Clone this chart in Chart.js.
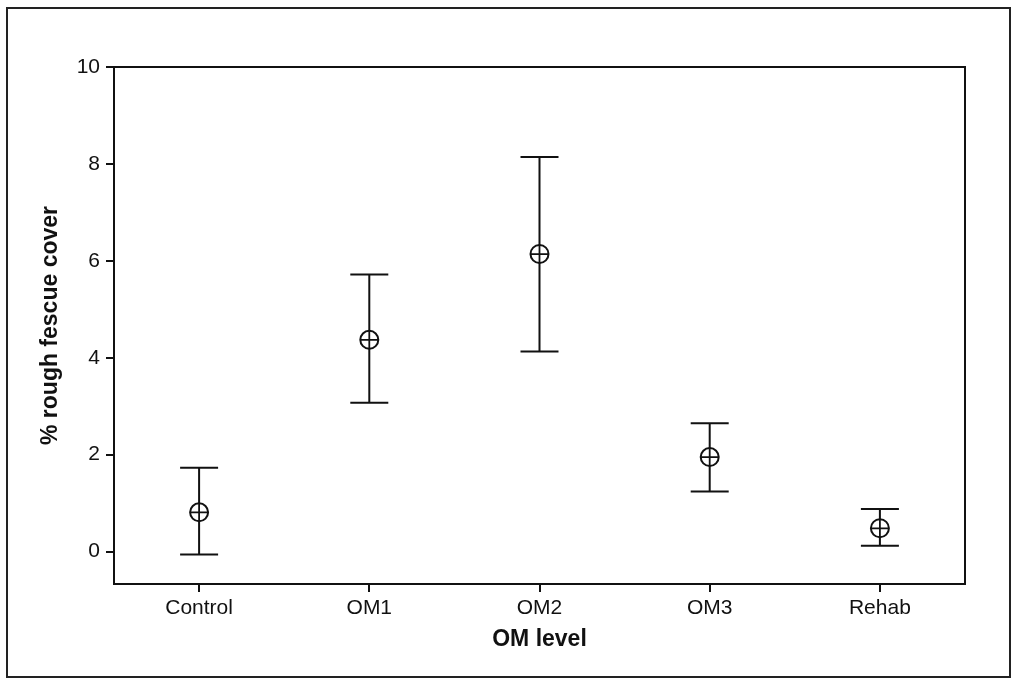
<!DOCTYPE html>
<html>
<head>
<meta charset="utf-8">
<script src="https://cdn.jsdelivr.net/npm/chart.js@4"></script>
<style>
  html, body { margin: 0; padding: 0; background: #fff; }
  #wrap { width: 1013px; height: 681px; }
</style>
</head>
<body>
<div id="wrap"><canvas id="fescueChart" width="1013" height="681"></canvas></div>
<script>
// treatment levels and rough fescue cover (%) with interval bounds
const omLevels = ['Control', 'OM1', 'OM2', 'OM3', 'Rehab'];
const meanCover = [0.81, 4.37, 6.14, 1.95, 0.48];
const upperCover = [1.73, 5.72, 8.14, 2.65, 0.88];
const lowerCover = [-0.06, 3.07, 4.13, 1.24, 0.12];
const yTicks = [0, 2, 4, 6, 8, 10];

// white page + thin frame around the whole figure
const frame = {
    id: 'frame',
    beforeDraw(chart) {
        const ctx = chart.ctx;
        ctx.save();
        ctx.fillStyle = '#fff';
        ctx.fillRect(0, 0, chart.width, chart.height);
        ctx.strokeStyle = '#222';
        ctx.lineWidth = 2;
        ctx.strokeRect(7, 8, 1003, 669);
        ctx.restore();
    },
    afterDraw(chart) {
        // closed box around the plot area
        const a = chart.chartArea;
        const ctx = chart.ctx;
        ctx.save();
        ctx.strokeStyle = '#111';
        ctx.lineWidth = 2;
        ctx.strokeRect(a.left, a.top, a.right - a.left, a.bottom - a.top);
        ctx.restore();
    }
};

// vertical whiskers with caps, drawn under the markers
const errorBars = {
    id: 'errorBars',
    beforeDatasetsDraw(chart) {
        const x = chart.scales.x, y = chart.scales.y, ctx = chart.ctx;
        const cap = 19;
        ctx.save();
        ctx.strokeStyle = '#111';
        ctx.lineWidth = 2;
        omLevels.forEach((lvl, i) => {
            const px = x.getPixelForValue(i);
            const yHi = y.getPixelForValue(upperCover[i]);
            const yLo = y.getPixelForValue(lowerCover[i]);
            ctx.beginPath();
            ctx.moveTo(px, yHi); ctx.lineTo(px, yLo);
            ctx.moveTo(px - cap, yHi); ctx.lineTo(px + cap, yHi);
            ctx.moveTo(px - cap, yLo); ctx.lineTo(px + cap, yLo);
            ctx.stroke();
        });
        ctx.restore();
    }
};

new Chart(document.getElementById('fescueChart'), {
    type: 'line',
    data: {
        labels: omLevels,
        datasets: [
            // cross on top, open circle underneath -> circled plus marker
            { data: meanCover, showLine: false, pointStyle: 'cross', pointRadius: 9,
              pointBorderColor: '#111', pointBorderWidth: 1.8 },
            { data: meanCover, showLine: false, pointStyle: 'circle', pointRadius: 9,
              pointBackgroundColor: '#fff', pointBorderColor: '#111', pointBorderWidth: 2 }
        ]
    },
    options: {
        responsive: false,
        animation: false,
        events: [],
        layout: { padding: { top: 67, right: 48, left: 0, bottom: 0 } },
        plugins: { legend: { display: false }, tooltip: { enabled: false } },
        scales: {
            x: {
                offset: true,
                grid: { display: true, drawOnChartArea: false, drawTicks: true, tickLength: 8, color: '#111', lineWidth: 2, offset: false },
                border: { display: true, color: '#111', width: 2 },
                ticks: { color: '#111', padding: 4, font: { family: 'Liberation Sans', size: 21 }, maxRotation: 0 },
                title: { display: true, text: 'OM level', color: '#111',
                         font: { family: 'Liberation Sans', size: 23, weight: 'bold' },
                         padding: { top: 0, bottom: 28 } },
                afterFit(scale) { scale.height = 97; }
            },
            y: {
                min: -0.67,
                max: 10,
                afterBuildTicks(scale) { scale.ticks = yTicks.map(v => ({ value: v })); },
                grid: { display: true, drawOnChartArea: false, drawTicks: true, tickLength: 8, color: '#111', lineWidth: 2 },
                border: { display: true, color: '#111', width: 2 },
                ticks: { color: '#111', padding: 6, font: { family: 'Liberation Sans', size: 21 } },
                title: { display: true, text: '% rough fescue cover', color: '#111',
                         font: { family: 'Liberation Sans', size: 23, weight: 'bold' },
                         padding: { top: 37, bottom: 0 } },
                afterFit(scale) { scale.width = 114; }
            }
        }
    },
    plugins: [frame, errorBars]
});
</script>
</body>
</html>
